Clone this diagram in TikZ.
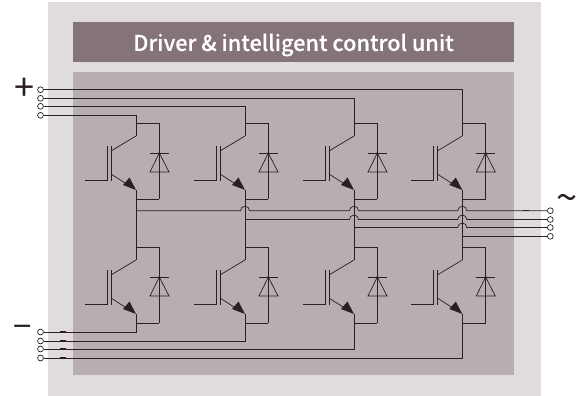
\documentclass[tikz,border=0pt]{standalone}
\usepackage{fontspec}
\usetikzlibrary{calc}
\newfontfamily\titlefont{Noto Sans CJK JP Medium}[FakeBold=0.25]
\setmainfont{Noto Sans CJK JP}
\definecolor{outerbg}{HTML}{E0DCDD}
\definecolor{innerbg}{HTML}{B9AEAF}
\definecolor{titlebg}{HTML}{85737A}
\definecolor{wire}{HTML}{2A2022}
\tikzset{
  wireline/.style={draw=wire,line width=0.85pt},
  thinwire/.style={draw=wire,line width=0.7pt},
  terminal/.style={circle,draw=wire,fill=white,line width=0.7pt,minimum size=5.8pt,inner sep=0pt},
  tipmark/.style={draw=wire,line width=1.1pt},
  sign/.style={text=wire,inner sep=0pt},
}
\begin{document}
\begin{tikzpicture}[x=1pt,y=-1pt,line join=miter]
\useasboundingbox (0,0) rectangle (579,396);
\fill[outerbg] (48,2) rectangle (541,396);
\fill[innerbg] (73,72) rectangle (514,375);
\fill[titlebg] (73,22) rectangle (514,62);
\node[inner sep=0pt,text=white,font=\titlefont\fontsize{21.7}{24}\selectfont] (title) at (293.5,45) {Driver \& intelligent control unit};

% terminals
\foreach \n/\y in {1/89.7,2/98.3,3/106.3,4/115.3}{\node[terminal] (tp\n) at (40.5,\y) {};}
\foreach \n/\y in {1/332,2/341,3/349,4/358}{\node[terminal] (bm\n) at (40.5,\y) {};}
\foreach \n/\y in {1/210.7,2/219.5,3/227.5,4/236.3}{\node[terminal] (ac\n) at (550.3,\y) {};}

\node[sign,font=\fontsize{36}{36}\selectfont] (plus) at (24,89) {+};
\node[sign,font=\fontsize{33}{33}\selectfont] (minus) at (22.5,332) {−};
\node[sign,font=\fontsize{38}{38}\selectfont] (tilde) at (567,203) {\char"007E};

\foreach \c/\X in {1/136,2/245,3/354,4/462.3}{
  \foreach \r/\Y in {t/0,b/124}{
    \begin{scope}[shift={(\X-136,\Y)}]
      \coordinate (c\c\r) at (136,136);
      \coordinate (e\c\r) at (136,190);
      \coordinate (k\c\r) at (136,123);
      \coordinate (a\c\r) at (136,199);
      \coordinate (dk\c\r) at (159.3,123);
      \coordinate (da\c\r) at (159.3,199);
      \coordinate (g\c\r) at (85,180.7);
      % IGBT
      \draw[wireline] (g\c\r) -- (107.5,180.7) -- (107.5,146);
      \draw[wireline] (111,146) -- (111,181);
      \draw[thinwire] (111,151) -- (c\c\r);
      \draw[thinwire] (111,174) -- (125,183);
      \fill[wire] (e\c\r) -- (123,185) -- (129.5,177.5) -- cycle;
      % diode
      \draw[thinwire] (dk\c\r) -- (da\c\r);
      \draw[wireline] (150,153) -- (169,153);
      \draw[thinwire] (159.3,153) -- (150,172) -- (169,172) -- cycle;
      \fill[wire] (159.3,153) circle (1pt);
      % links
      \draw[wireline] (k\c\r) -- (dk\c\r);
      \draw[wireline] (a\c\r) -- (da\c\r);
      \draw[wireline] (k\c\r) -- (c\c\r);
      \draw[wireline] (e\c\r) -- (a\c\r);
    \end{scope}
  }
}

% positive rail
\draw[wireline] (tp1) -| (k4t);
\draw[wireline] (tp2) -| (k3t);
\draw[wireline] (tp3) -| (k2t);
\draw[wireline] (tp4) -| (k1t);
% negative rail
\draw[wireline] (bm1) -| (a1b);
\draw[wireline] (bm2) -| (a2b);
\draw[wireline] (bm3) -| (a3b);
\draw[wireline] (bm4) -| (a4b);

% mid legs
\foreach \c in {1,2,3,4}{\draw[wireline] (a\c t) -- (k\c b);}

% output lines with hops
\def\hop#1{-- (#1-4.5,\yy) arc[start angle=180,end angle=0,radius=4.5pt]}
\def\yy{210.7}
\draw[thinwire] (a1t |- ac1) \hop{245} \hop{354} \hop{462.3} -- (ac1);
\def\yy{219.5}
\draw[thinwire] (a2t |- ac2) \hop{354} \hop{462.3} -- (ac2);
\def\yy{227.5}
\draw[thinwire] (a3t |- ac3) \hop{462.3} -- (ac3);
\draw[thinwire] (a4t |- ac4) -- (ac4);

% thicker ticks on leads
\foreach \n in {1,3,4}{\draw[tipmark] ($(tp\n)+(19,0)$) -- ++(6,0);}
\foreach \n in {1,2,3,4}{\draw[tipmark] ($(bm\n)+(19,0)$) -- ++(6,0);}
\foreach \n in {1,3,4}{\draw[tipmark] ($(ac\n)+(-27,0)$) -- ++(6,0);}
\end{tikzpicture}
\end{document}
